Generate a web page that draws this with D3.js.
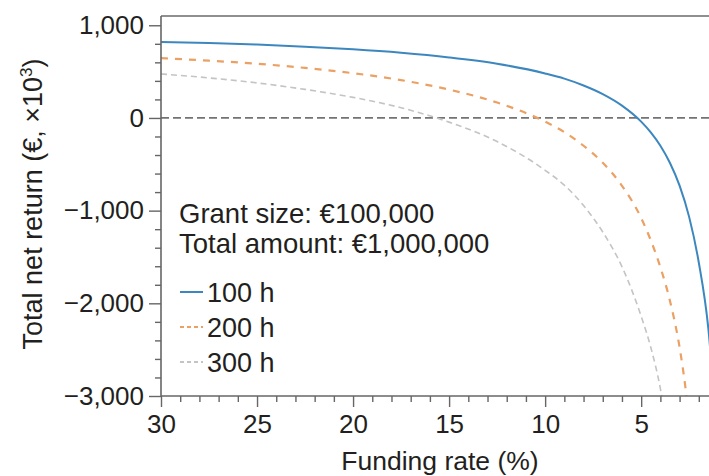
<!DOCTYPE html>
<html>
<head>
<meta charset="utf-8">
<script src="https://cdn.jsdelivr.net/npm/d3@7"></script>
<style>
  html, body { margin: 0; padding: 0; background: #fff; }
  svg { display: block; font-family: "Liberation Sans", Arial, Helvetica, sans-serif; }
</style>
</head>
<body>
<svg id="chart" width="709" height="476"></svg>
<script>
// Funding rate (%) at which each curve is sampled
const rate100 = [30, 27.5, 25, 22.5, 20, 17.5, 15, 12.5, 10, 9, 8, 7, 6, 5, 4.5, 4, 3.5, 3, 2.5, 2, 1.5, 1.3, 1.2];
const rate200 = [30, 27.5, 25, 22.5, 20, 17.5, 15, 12.5, 10, 9, 8, 7, 6, 5, 4.5, 4, 3.5, 3, 2.7, 2.64];
const rate300 = [30, 27.5, 25, 22.5, 20, 17.5, 15, 12.5, 10, 9, 8, 7, 6, 5, 4.5, 4, 3.93];

// Total net return (€ thousands) for 100, 200 and 300 hours per application
const return100 = [820, 808, 792, 768, 740, 703, 653, 585, 480, 424, 350, 257, 133, -40, -156, -300, -486, -730, -1070, -1560, -2280, -2750, -3000];
const return200 = [645, 618, 585, 540, 483, 408, 306, 166, -40, -153, -300, -483, -732, -1080, -1320, -1610, -1975, -2475, -2900, -3000];
const return300 = [475, 432, 378, 308, 222, 110, -45, -255, -565, -725, -945, -1230, -1605, -2140, -2475, -2920, -3000];

const seriesLabels = ["100 h", "200 h", "300 h"];
const xTickValues = [30, 25, 20, 15, 10, 5];
const yTickValues = [1000, 0, -1000, -2000, -3000];
const noteLines = ["Grant size: €100,000", "Total amount: €1,000,000"];

const svg = d3.select("#chart");
const plotLeft = 161, plotTop = 16, plotBottom = 396, plotRight = 718;

const x = d3.scaleLinear().domain([30, 1]).range([plotLeft, plotRight]);
const y = d3.scaleLinear().domain([-3000, 1100]).range([plotBottom, plotTop]);

const textColor = "#231f20";
const axisColor = "#666";
const tickFont = "26px";
const labelFont = "27px";

const series = [
  { name: seriesLabels[0], rates: rate100, values: return100, color: "#3d87bf", width: 2, dash: null, legendDash: null },
  { name: seriesLabels[1], rates: rate200, values: return200, color: "#eba064", width: 2.2, dash: "7,7", legendDash: "4,3" },
  { name: seriesLabels[2], rates: rate300, values: return300, color: "#c4c4c4", width: 1.6, dash: "6,4", legendDash: "4,3" }
];

// clip region for the plotting area
svg.append("defs").append("clipPath").attr("id", "plot-clip")
  .append("rect").attr("x", plotLeft).attr("y", plotTop)
  .attr("width", plotRight - plotLeft).attr("height", plotBottom - plotTop + 2);

// frame line along the top
svg.append("line")
  .attr("x1", plotLeft).attr("x2", plotRight).attr("y1", plotTop).attr("y2", plotTop)
  .attr("stroke", "#8f8f8f").attr("stroke-width", 1.8);

// zero reference line
svg.append("line")
  .attr("x1", plotLeft).attr("x2", plotRight).attr("y1", y(0)).attr("y2", y(0))
  .attr("stroke", "#737373").attr("stroke-width", 1.8).attr("stroke-dasharray", "8,4");

// curves
const line = d3.line()
  .x(d => x(d[0])).y(d => y(d[1]))
  .curve(d3.curveMonotoneX);

const curves = svg.append("g").attr("clip-path", "url(#plot-clip)");
series.slice().reverse().forEach(s => {
  curves.append("path")
    .datum(s.rates.map((r, i) => [r, s.values[i]]))
    .attr("d", line)
    .attr("fill", "none")
    .attr("stroke", s.color)
    .attr("stroke-width", s.width)
    .attr("stroke-dasharray", s.dash);
});

// y axis: major ticks with labels, minor ticks every 200
const yMinor = d3.range(-3000, 1001, 200).filter(v => v % 1000 !== 0);
const yAxisMinor = svg.append("g").attr("transform", `translate(${plotLeft},0)`)
  .call(d3.axisLeft(y).tickValues(yMinor).tickSize(6).tickFormat(""));
const yAxis = svg.append("g").attr("transform", `translate(${plotLeft},0)`)
  .call(d3.axisLeft(y).tickValues(yTickValues).tickSize(12).tickPadding(5).tickFormat(d3.format(",")));
[yAxisMinor, yAxis].forEach(g => {
  g.select(".domain").remove();
  g.selectAll("line").attr("stroke", axisColor).attr("stroke-width", 1.4);
});
yAxis.selectAll("text").attr("fill", textColor).style("font-size", tickFont);
svg.append("line").attr("x1", plotLeft).attr("x2", plotLeft).attr("y1", plotTop).attr("y2", plotBottom)
  .attr("stroke", axisColor).attr("stroke-width", 1.6);

// x axis: major ticks every 5, minor every 1
const xMinor = d3.range(1, 31).filter(v => v % 5 !== 0);
const xAxisMinor = svg.append("g").attr("transform", `translate(0,${plotBottom})`)
  .call(d3.axisBottom(x).tickValues(xMinor).tickSize(6).tickFormat(""));
const xAxis = svg.append("g").attr("transform", `translate(0,${plotBottom})`)
  .call(d3.axisBottom(x).tickValues(xTickValues).tickSize(11).tickPadding(8).tickFormat(d3.format("d")));
[xAxisMinor, xAxis].forEach(g => {
  g.select(".domain").remove();
  g.selectAll("line").attr("stroke", axisColor).attr("stroke-width", 1.4);
});
xAxis.selectAll("text").attr("fill", textColor).style("font-size", tickFont);
svg.append("line").attr("x1", plotLeft).attr("x2", plotRight).attr("y1", plotBottom).attr("y2", plotBottom)
  .attr("stroke", axisColor).attr("stroke-width", 1.6);

// axis titles
svg.append("text")
  .attr("x", 440).attr("y", 470)
  .attr("text-anchor", "middle")
  .attr("fill", textColor).style("font-size", "26.5px")
  .text("Funding rate (%)");

const yTitle = svg.append("text")
  .attr("transform", "translate(42,204) rotate(-90)")
  .attr("text-anchor", "middle")
  .attr("fill", textColor).style("font-size", "27px");
yTitle.append("tspan").text("Total net return (€, ×10");
yTitle.append("tspan").attr("dy", -10).style("font-size", "17px").text("3");
yTitle.append("tspan").attr("dy", 10).text(")");

// annotation
noteLines.forEach((t, i) => {
  svg.append("text")
    .attr("x", 179).attr("y", 223 + i * 30)
    .attr("fill", textColor).style("font-size", "27.5px")
    .text(t);
});

// legend
series.forEach((s, i) => {
  const cy = 292 + i * 35;
  svg.append("line")
    .attr("x1", 180).attr("x2", 203).attr("y1", cy).attr("y2", cy)
    .attr("stroke", s.color).attr("stroke-width", 2)
    .attr("stroke-dasharray", s.legendDash);
  svg.append("text")
    .attr("x", 207).attr("y", cy + 9.5)
    .attr("fill", textColor).style("font-size", labelFont)
    .text(s.name);
});
</script>
</body>
</html>
